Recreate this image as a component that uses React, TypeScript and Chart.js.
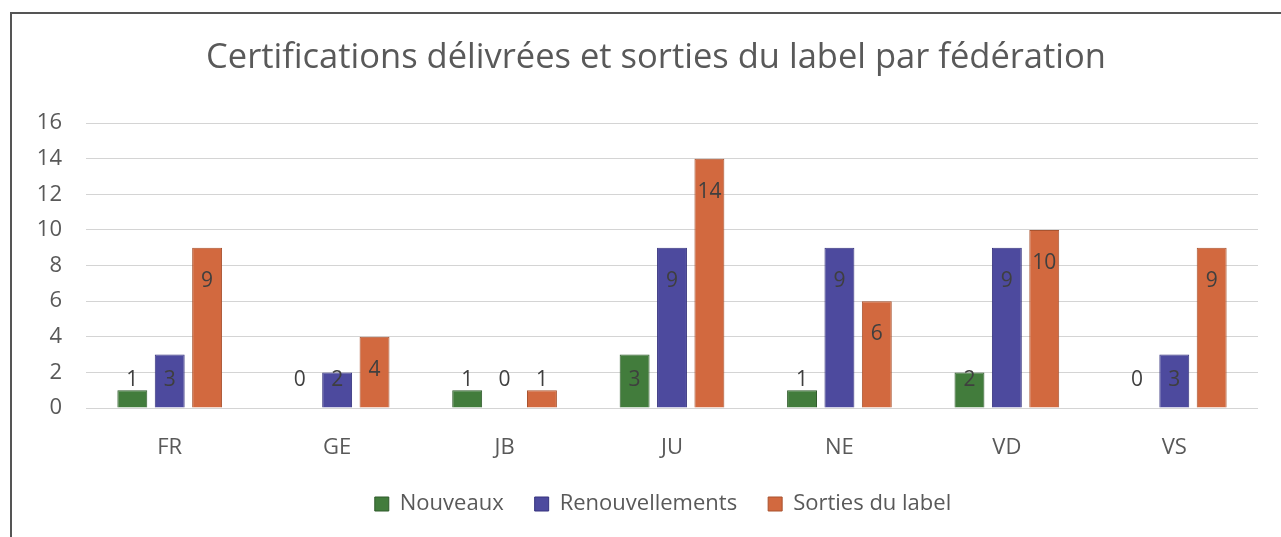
import React, { useEffect, useRef } from "react";
import { Chart, registerables } from "chart.js";

Chart.register(...registerables);

const titleText = "Certifications délivrées et sorties du label par fédération";
const categories = ["FR", "GE", "JB", "JU", "NE", "VD", "VS"];
const seriesNames = ["Nouveaux", "Renouvellements", "Sorties du label"];
const nouveaux = [1, 0, 1, 3, 1, 2, 0];
const renouvellements = [3, 2, 0, 9, 9, 9, 3];
const sorties = [9, 4, 1, 14, 6, 10, 9];
const yMin = 0;
const yMax = 16;
const yStep = 2;

const fillColors = ["#427c3c", "#4d4a9e", "#d2693f"];
const edgeColors = ["#2f5a2b", "#36337e", "#a9532f"];
const FONT = "'Open Sans', 'DejaVu Sans', sans-serif";
const TEXT = "#595959";

const labelPlugin = {
  id: "barLabels",
  afterDatasetsDraw(chart: any) {
    const ctx = chart.ctx;
    const base = chart.scales.y.getPixelForValue(0);
    ctx.save();
    ctx.font = `21px ${FONT}`;
    ctx.fillStyle = "#3f3f3f";
    ctx.textAlign = "center";
    ctx.textBaseline = "middle";
    chart.data.datasets.forEach((ds: any, i: number) => {
      const meta = chart.getDatasetMeta(i);
      meta.data.forEach((bar: any, j: number) => {
        const y = Math.min(bar.y + 33, base - 28);
        ctx.fillText(String(ds.data[j]), bar.x, y);
      });
    });
    ctx.restore();
  },
};

// shift the title and legend blocks horizontally to match the reference's centring
const shiftPlugin = {
  id: "shiftBlocks",
  afterLayout(chart: any) {
    const t = chart.titleBlock;
    if (t) {
      t.left += 22;
      t.right += 22;
    }
    const l = chart.legend;
    if (l) {
      l.left += 29;
      l.right += 29;
    }
  },
};

export default function App() {
  const ref = useRef<HTMLCanvasElement | null>(null);

  useEffect(() => {
    if (!ref.current) return;
    const seriesValues = [nouveaux, renouvellements, sorties];
    const chart = new Chart(ref.current, {
      type: "bar",
      data: {
        labels: categories,
        datasets: seriesNames.map((name, i) => ({
          label: name,
          data: seriesValues[i],
          backgroundColor: fillColors[i],
          borderColor: edgeColors[i],
          borderWidth: 1,
          barPercentage: 0.8,
          categoryPercentage: 0.67,
        })),
      },
      options: {
        animation: false,
        responsive: false,
        layout: { padding: { top: 24, bottom: 12, left: 0, right: 42 } },
        plugins: {
          tooltip: { enabled: false },
          title: {
            display: true,
            text: titleText,
            color: TEXT,
            font: { family: FONT, size: 34.5, weight: "normal" },
            padding: { top: 0, bottom: 44.6 },
          },
          legend: {
            position: "bottom",
            labels: {
              color: TEXT,
              font: { family: FONT, size: 22 },
              boxWidth: 14,
              boxHeight: 14,
              padding: 31,
            },
          },
        },
        scales: {
          x: {
            grid: { display: false },
            border: { display: false },
            ticks: { color: TEXT, font: { family: FONT, size: 22 }, padding: 19 },
            afterFit: (s: any) => {
              s.height = 54;
            },
          },
          y: {
            min: yMin,
            max: yMax,
            ticks: { stepSize: yStep, color: TEXT, font: { family: FONT, size: 22 }, padding: 24 },
            grid: { color: "#d4d4d4", lineWidth: 1, drawTicks: false },
            border: { display: false },
            afterFit: (s: any) => {
              s.width = 76;
            },
          },
        },
      },
      plugins: [labelPlugin, shiftPlugin],
    });
    return () => chart.destroy();
  }, []);

  return (
    <div
      style={{
        position: "fixed",
        left: 0,
        top: 0,
        width: 1281,
        height: 537,
        overflow: "hidden",
        background: "#ffffff",
      }}
    >
      <div
        style={{
          position: "absolute",
          left: 10,
          top: 12,
          width: 1300,
          height: 560,
          borderTop: "2px solid #555555",
          borderLeft: "2px solid #555555",
          boxSizing: "border-box",
        }}
      />
      <canvas
        ref={ref}
        width={1290}
        height={524}
        style={{ position: "absolute", left: 10, top: 13, width: 1290, height: 524 }}
      />
    </div>
  );
}
